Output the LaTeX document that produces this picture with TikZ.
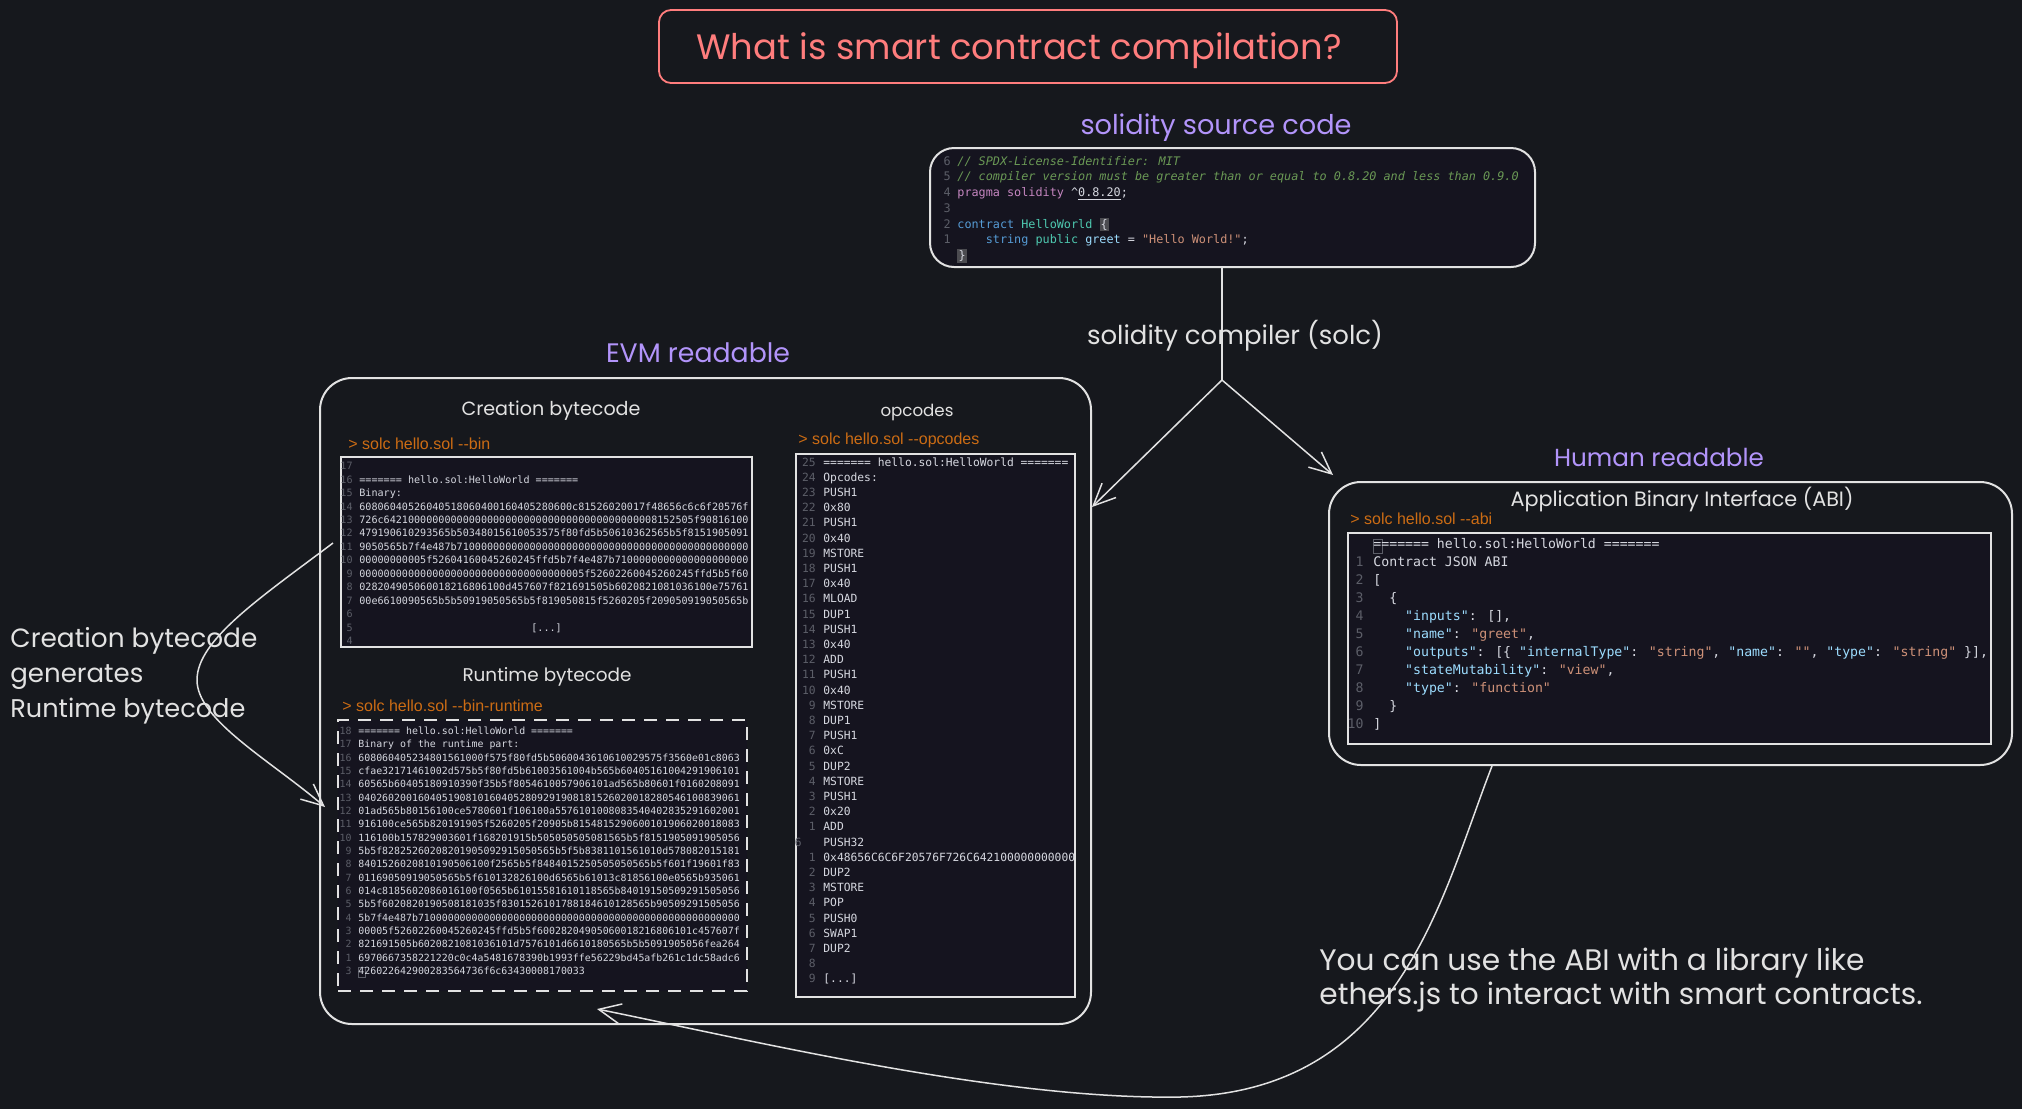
\documentclass[tikz,border=0pt]{standalone}
\usepackage{fontspec}
\usepackage{graphicx}
\usetikzlibrary{arrows.meta}
\newfontfamily\hand{Poppins}
\newfontfamily\cmdf{Liberation Sans}
\newfontfamily\codef{DejaVu Sans Mono}
\definecolor{bg}{RGB}{22,24,29}
\definecolor{panel}{RGB}{21,20,31}
\definecolor{fg}{RGB}{226,226,226}
\definecolor{redc}{RGB}{255,125,125}
\definecolor{purp}{RGB}{178,148,250}
\definecolor{orng}{RGB}{204,108,20}
\definecolor{lnc}{RGB}{92,94,104}
\definecolor{codec}{RGB}{214,216,224}
\definecolor{cmt}{RGB}{106,153,85}
\definecolor{kwp}{RGB}{197,134,192}
\definecolor{kwb}{RGB}{86,156,214}
\definecolor{tealc}{RGB}{78,201,176}
\definecolor{lbl}{RGB}{156,220,254}
\definecolor{strc}{RGB}{206,145,120}
\definecolor{hlc}{RGB}{75,75,80}
\newcounter{cln}
\newcommand\csz{}
\newcommand\setcsz[1]{\renewcommand\csz{\fontsize{#1}{#1}\selectfont}}
\newcommand\cl[5]{\stepcounter{cln}%
  \node[lnum,anchor=base east] (ln\thecln) at (#1,#3) {#4};%
  \node[ctext,anchor=base west] (lt\thecln) at (#2,#3) {#5};}
\newcommand\hl[1]{{\fboxsep=0.6pt\colorbox{hlc}{#1}}}
\newcommand\cur[1]{\makebox[0pt][l]{\color{lnc}\fboxsep=0pt\fboxrule=0.4pt\fbox{\phantom{#1}\strut}}#1}
\newcommand\dd{-\kern0pt-}
\newcommand\Kk[1]{{\color{lbl}#1}}
\newcommand\Sv[1]{{\color{strc}#1}}
\newcommand\zten{0000000000}
\begin{document}
\begin{tikzpicture}[x=0.5pt,y=-0.5pt,
  lnum/.style={inner sep=0pt,text=lnc,font=\codef\csz},
  ctext/.style={inner sep=0pt,text=codec,font=\codef\csz},
  hand/.style={inner sep=0pt,text=fg,font=\hand\fontsize{10pt}{12pt}\selectfont},
  cmd/.style={inner sep=0pt,text=orng,font=\cmdf\fontsize{8pt}{9pt}\selectfont},
  outer/.style={draw=fg,line width=1pt,rounded corners=16pt},
  pnl/.style={draw=fg,line width=0.8pt,fill=panel},
  arr/.style={draw=fg,line width=0.75pt,-{Straight Barb[length=11pt,width=10pt]}},
  ln/.style={draw=fg,line width=0.75pt}]
\useasboundingbox (0,0) rectangle (2022,1109);
\fill[bg] (0,0) rectangle (2022,1109);

% ---------- title
\node[draw=redc,line width=0.9pt,rounded corners=6pt,minimum width=369pt,minimum height=36.5pt] (titlebox) at (1028,46.5) {};
\node[hand,text=redc,font=\hand\fontsize{17pt}{20pt}\selectfont,anchor=mid] (title) at (1019,55) {\resizebox{322.5pt}{!}{What is smart contract compilation?}};

% ---------- boxes
\node[hand,text=purp,anchor=mid] (srclabel) at (1216,130) {\resizebox{135.5pt}{!}{solidity source code}};
\node[outer,fill=panel,rounded corners=12pt,minimum width=302.5pt,minimum height=59.5pt] (src) at (1232.5,207.5) {};
\node[outer,minimum width=385.5pt,minimum height=323pt] (evm) at (705.5,701) {};
\node[outer,minimum width=341.5pt,minimum height=141.5pt] (abi) at (1670.5,623.5) {};
\node[pnl,minimum width=205.5pt,minimum height=95pt] (cre) at (546.5,552) {};
\node[pnl,line width=1pt,dash pattern=on 6.5pt off 4.5pt,minimum width=204.5pt,minimum height=135.5pt] (rt) at (542.5,855.5) {};
\node[pnl,minimum width=139.5pt,minimum height=271.5pt] (opc) at (935.5,725.5) {};
\node[pnl,minimum width=321.5pt,minimum height=105.5pt] (abip) at (1669.5,638.5) {};

% ---------- labels
\node[hand,anchor=mid] (compl) at (1235,340) {\resizebox{148pt}{!}{solidity compiler (solc)}};
\node[hand,text=purp,anchor=mid] (evml) at (698,358) {\resizebox{92pt}{!}{EVM readable}};
\node[hand,anchor=mid] (crel) at (551,411) {\resizebox{89.5pt}{!}{Creation bytecode}};
\node[hand,anchor=mid] (opcl) at (917,412) {\resizebox{36.5pt}{!}{opcodes}};
\node[hand,anchor=mid] (rtl) at (547,677) {\resizebox{84.5pt}{!}{Runtime bytecode}};
\node[hand,text=purp,anchor=mid] (huml) at (1659,462) {\resizebox{105pt}{!}{Human readable}};
\node[hand,anchor=mid] (abil) at (1682,502) {\resizebox{171.5pt}{!}{Application Binary Interface (ABI)}};
\node[hand,anchor=mid west] (left1) at (10,643) {\resizebox{123.5pt}{!}{Creation bytecode}};
\node[hand,anchor=mid west] (left2) at (10,678) {\resizebox{66.5pt}{!}{generates}};
\node[hand,anchor=mid west] (left3) at (10,713) {\resizebox{117.5pt}{!}{Runtime bytecode}};
\node[hand,anchor=mid west] (bot1) at (1319,966) {\resizebox{272.5pt}{!}{You can use the ABI with a library like}};
\node[hand,anchor=mid west] (bot2) at (1319,1000) {\resizebox{301.5pt}{!}{ethers.js to interact with smart contracts.}};

\node[cmd,anchor=mid west] (cmd1) at (348,445) {> solc hello.sol \dd bin};
\node[cmd,anchor=mid west] (cmd2) at (342,707) {> solc hello.sol \dd bin-runtime};
\node[cmd,anchor=mid west] (cmd3) at (798,440) {> solc hello.sol \dd opcodes};
\node[cmd,anchor=mid west] (cmd4) at (1350,520) {> solc hello.sol \dd abi};

% ---------- source code
\setcsz{5.9pt}
\cl{951}{957}{165.2}{6}{\color{cmt}\itshape // SPDX-License-Identifier: MIT}
\cl{951}{957}{180.9}{5}{\color{cmt}\itshape // compiler version must be greater than or equal to 0.8.20 and less than 0.9.0}
\cl{951}{957}{196.6}{4}{{\color{kwp}pragma solidity} \textasciicircum\underline{0.8.20};}
\cl{951}{957}{212.3}{3}{}
\cl{951}{957}{228.0}{2}{{\color{kwb}contract} {\color{tealc}HelloWorld} \hl{\{}}
\cl{951}{957}{243.7}{1}{\phantom{0000}{\color{kwb}string} {\color{tealc}public} {\color{lbl}greet} = {\color{strc}"Hello World!"};}
\cl{951}{957}{259.4}{}{\hl{\}}}

% ---------- creation bytecode
\setcsz{5.05pt}
\cl{353}{359}{469.6}{17}{}
\cl{353}{359}{483.1}{16}{======= hello.sol:HelloWorld =======}
\cl{353}{359}{496.5}{15}{Binary:}
\cl{353}{359}{510.0}{14}{60806040526040518060400160405280600c81526020017f48656c6c6f20576f}
\cl{353}{359}{523.4}{13}{726c6421\zten\zten\zten\zten 8152505f90816100}
\cl{353}{359}{536.9}{12}{479190610293565b50348015610053575f80fd5b50610362565b5f8151905091}
\cl{353}{359}{550.4}{11}{9050565b7f4e487b71\zten\zten\zten\zten 000000}
\cl{353}{359}{563.8}{10}{\zten 5f52604160045260245ffd5b7f4e487b71\zten\zten}
\cl{353}{359}{577.3}{9}{\zten\zten\zten 0000005f52602260045260245ffd5b5f60}
\cl{353}{359}{590.7}{8}{028204905060018216806100d457607f821691505b6020821081036100e75761}
\cl{353}{359}{604.2}{7}{00e6610090565b5b50919050565b5f819050815f5260205f209050919050565b}
\cl{353}{359}{617.7}{6}{}
\cl{353}{531}{631.1}{5}{[...]}
\cl{353}{359}{644.6}{4}{}

% ---------- runtime bytecode
\setcsz{4.95pt}
\cl{352}{358}{734.6}{18}{======= hello.sol:HelloWorld =======}
\cl{352}{358}{747.9}{17}{Binary of the runtime part:}
\cl{352}{358}{761.3}{16}{608060405234801561000f575f80fd5b5060043610610029575f3560e01c8063}
\cl{352}{358}{774.6}{15}{cfae32171461002d575b5f80fd5b61003561004b565b60405161004291906101}
\cl{352}{358}{787.9}{14}{60565b60405180910390f35b5f8054610057906101ad565b80601f0160208091}
\cl{352}{358}{801.3}{13}{0402602001604051908101604052809291908181526020018280546100839061}
\cl{352}{358}{814.6}{12}{01ad565b80156100ce5780601f106100a5576101008083540402835291602001}
\cl{352}{358}{827.9}{11}{916100ce565b820191905f5260205f20905b8154815290600101906020018083}
\cl{352}{358}{841.2}{10}{116100b157829003601f168201915b505050505081565b5f8151905091905056}
\cl{352}{358}{854.6}{9}{5b5f82825260208201905092915050565b5f5b8381101561010d578082015181}
\cl{352}{358}{867.9}{8}{8401526020810190506100f2565b5f8484015250505050565b5f601f19601f83}
\cl{352}{358}{881.2}{7}{01169050919050565b5f610132826100d6565b61013c81856100e0565b935061}
\cl{352}{358}{894.6}{6}{014c8185602086016100f0565b61015581610118565b84019150509291505056}
\cl{352}{358}{907.9}{5}{5b5f6020820190508181035f8301526101788184610128565b90509291505056}
\cl{352}{358}{921.2}{4}{5b7f4e487b71\zten\zten\zten\zten\zten 00}
\cl{352}{358}{934.6}{3}{00005f52602260045260245ffd5b5f60028204905060018216806101c457607f}
\cl{352}{358}{947.9}{2}{821691505b6020821081036101d7576101d6610180565b5b5091905056fea264}
\cl{352}{358}{961.2}{1}{6970667358221220c0c4a5481678390b1993ffe56229bd45afb261c1dc58adc6}
\cl{352}{358}{974.5}{3}{\cur{4}26022642900283564736f6c63430008170033}

% ---------- opcodes
\setcsz{5.65pt}
\cl{816}{823}{466.1}{25}{======= hello.sol:HelloWorld =======}
\cl{816}{823}{481.3}{24}{Opcodes:}
\cl{816}{823}{496.5}{23}{PUSH1}
\cl{816}{823}{511.7}{22}{0x80}
\cl{816}{823}{526.9}{21}{PUSH1}
\cl{816}{823}{542.1}{20}{0x40}
\cl{816}{823}{557.3}{19}{MSTORE}
\cl{816}{823}{572.5}{18}{PUSH1}
\cl{816}{823}{587.7}{17}{0x40}
\cl{816}{823}{602.9}{16}{MLOAD}
\cl{816}{823}{618.1}{15}{DUP1}
\cl{816}{823}{633.3}{14}{PUSH1}
\cl{816}{823}{648.5}{13}{0x40}
\cl{816}{823}{663.7}{12}{ADD}
\cl{816}{823}{678.9}{11}{PUSH1}
\cl{816}{823}{694.1}{10}{0x40}
\cl{816}{823}{709.3}{9}{MSTORE}
\cl{816}{823}{724.5}{8}{DUP1}
\cl{816}{823}{739.7}{7}{PUSH1}
\cl{816}{823}{754.9}{6}{0xC}
\cl{816}{823}{770.1}{5}{DUP2}
\cl{816}{823}{785.3}{4}{MSTORE}
\cl{816}{823}{800.5}{3}{PUSH1}
\cl{816}{823}{815.7}{2}{0x20}
\cl{816}{823}{830.9}{1}{ADD}
\cl{802}{823}{846.1}{6}{PUSH32}
\cl{816}{823}{861.3}{1}{0x48656C6C6F20576F726C642100000000000}
\cl{816}{823}{876.5}{2}{DUP2}
\cl{816}{823}{891.7}{3}{MSTORE}
\cl{816}{823}{906.9}{4}{POP}
\cl{816}{823}{922.1}{5}{PUSH0}
\cl{816}{823}{937.3}{6}{SWAP1}
\cl{816}{823}{952.5}{7}{DUP2}
\cl{816}{823}{967.7}{8}{}
\cl{816}{823}{982.9}{9}{[...]}

% ---------- ABI
\setcsz{6.6pt}
\cl{1364}{1373}{548.8}{}{\cur{=}====== hello.sol:HelloWorld =======}
\cl{1364}{1373}{566.8}{1}{Contract JSON ABI}
\cl{1364}{1373}{584.8}{2}{[}
\cl{1364}{1373}{602.8}{3}{\phantom{00}\{}
\cl{1364}{1373}{620.8}{4}{\phantom{0000}\Kk{"inputs"}: [],}
\cl{1364}{1373}{638.8}{5}{\phantom{0000}\Kk{"name"}: \Sv{"greet"},}
\cl{1364}{1373}{656.8}{6}{\phantom{0000}\Kk{"outputs"}: [\{ \Kk{"internalType"}: \Sv{"string"}, \Kk{"name"}: \Sv{""}, \Kk{"type"}: \Sv{"string"} \}],}
\cl{1364}{1373}{674.8}{7}{\phantom{0000}\Kk{"stateMutability"}: \Sv{"view"},}
\cl{1364}{1373}{692.8}{8}{\phantom{0000}\Kk{"type"}: \Sv{"function"}}
\cl{1364}{1373}{710.8}{9}{\phantom{00}\}}
\cl{1364}{1373}{728.8}{10}{]}

% ---------- connectors
\coordinate (split) at (1222,380);
\coordinate (tipR) at (1333,475);
\draw[ln] (split |- src.south) -- (split);
\draw[arr] (split) -- (evm.east |- 0,507);
\draw[arr] (split) -- (tipR);
\coordinate (cA) at (333,543);
\coordinate (cB) at (325,807);
\draw[arr] (cA) .. controls (260,598) and (197,640) .. (197,680) .. controls (197,720) and (270,760) .. (cB);
\coordinate (bA) at (1492,766);
\coordinate (bB) at (597,1009);
\draw[arr] (bA) .. controls (1440,900) and (1400,1092) .. (1180,1097) .. controls (1000,1100) and (750,1040) .. (bB);
\end{tikzpicture}
\end{document}
